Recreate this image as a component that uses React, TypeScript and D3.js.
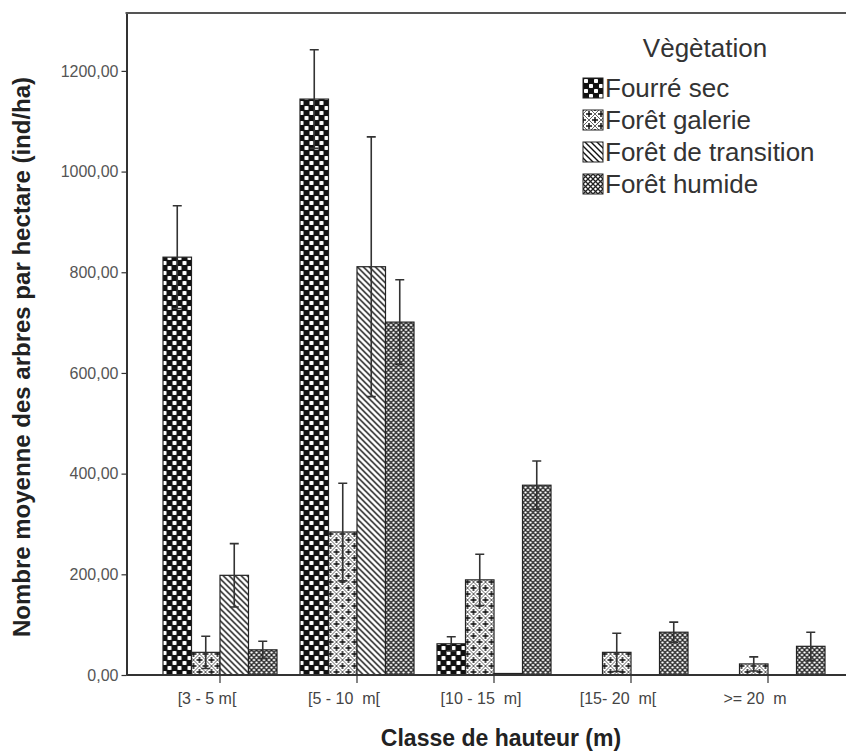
import { useEffect, useRef } from 'react';
import * as d3 from 'd3';

// height classes (x axis)
const categories = ['[3 - 5 m[', '[5 - 10  m[', '[10 - 15  m]', '[15- 20  m[', '>= 20  m'];
const yTicks = [0, 200, 400, 600, 800, 1000, 1200];

// vegetation types (legend)
const seriesNames = ['Fourré sec', 'Forêt galerie', 'Forêt de transition', 'Forêt humide'];

// mean number of trees per hectare, one array per vegetation type
const fourreSec = [830, 1144, 62, 0, 0];
const foretGalerie = [45, 284, 189, 45, 22];
const foretTransition = [198, 811, 3, 0, 0];
const foretHumide = [50, 701, 377, 85, 57];

// error bar half-widths
const fourreSecErr = [102, 98, 14, 0, 0];
const foretGalerieErr = [32, 97, 51, 38, 14];
const foretTransitionErr = [63, 258, 0, 0, 0];
const foretHumideErr = [17, 84, 48, 20, 28];

const App = () => {
  const svgRef = useRef(null);

  useEffect(() => {
    document.body.style.margin = '0';
    const svg = d3.select(svgRef.current);
    svg.selectAll('*').remove();

    const width = 846;
    const height = 754;
    const left = 126.5;
    const top = 13;
    const bottom = 675;
    const font = 'Liberation Sans, Arial, sans-serif';

    svg.attr('width', width).attr('height', height);
    svg.append('rect').attr('width', width).attr('height', height).attr('fill', '#fff');

    const values = [fourreSec, foretGalerie, foretTransition, foretHumide];
    const errors = [fourreSecErr, foretGalerieErr, foretTransitionErr, foretHumideErr];
    const patternIds = ['pFourre', 'pGalerie', 'pTransition', 'pHumide'];

    // ----- patterns -----
    const defs = svg.append('defs');

    const p0 = defs.append('pattern').attr('id', 'pFourre')
      .attr('patternUnits', 'userSpaceOnUse').attr('width', 10).attr('height', 10);
    p0.append('rect').attr('width', 10).attr('height', 10).attr('fill', '#111');
    p0.append('rect').attr('x', 1).attr('y', 1).attr('width', 4).attr('height', 4).attr('rx', 0.8).attr('fill', '#fff');
    p0.append('rect').attr('x', 6).attr('y', 6).attr('width', 4).attr('height', 4).attr('rx', 0.8).attr('fill', '#fff');

    const p1 = defs.append('pattern').attr('id', 'pGalerie')
      .attr('patternUnits', 'userSpaceOnUse').attr('width', 12).attr('height', 12);
    p1.append('rect').attr('width', 12).attr('height', 12).attr('fill', '#fff');
    p1.append('path').attr('d', 'M0,6 L6,0 L12,6 L6,12 Z')
      .attr('fill', 'none').attr('stroke', '#555').attr('stroke-width', 0.9);
    p1.append('path')
      .attr('d', 'M3,6 H9 M6,3 V9 M0,0 H3 M9,0 H12 M0,12 H3 M9,12 H12 M0,0 V3 M0,9 V12 M12,0 V3 M12,9 V12')
      .attr('stroke', '#111').attr('stroke-width', 1.5);

    const p2 = defs.append('pattern').attr('id', 'pTransition')
      .attr('patternUnits', 'userSpaceOnUse').attr('width', 6).attr('height', 6);
    p2.append('rect').attr('width', 6).attr('height', 6).attr('fill', '#fff');
    p2.append('path').attr('d', 'M-1,-1 L7,7 M-2,4 L2,8 M4,-2 L8,2')
      .attr('stroke', '#111').attr('stroke-width', 1.4);

    const p3 = defs.append('pattern').attr('id', 'pHumide')
      .attr('patternUnits', 'userSpaceOnUse').attr('width', 5).attr('height', 5);
    p3.append('rect').attr('width', 5).attr('height', 5).attr('fill', '#fff');
    p3.append('path').attr('d', 'M0,0 L5,5 M5,0 L0,5')
      .attr('stroke', '#222').attr('stroke-width', 1.3);

    // ----- scales -----
    const y = d3.scaleLinear().domain([0, 1315]).range([bottom, top]);
    const x0 = d3.scaleBand().domain(categories).range([151.5, 836.5]);
    const x1 = d3.scaleBand().domain(seriesNames).range([11.5, 125.5]);

    // ----- bars -----
    const groups = svg.append('g').selectAll('g')
      .data(categories)
      .enter()
      .append('g')
      .attr('transform', d => `translate(${x0(d)},0)`);

    groups.selectAll('rect')
      .data((d, i) => seriesNames.map((s, j) => ({ s, j, v: values[j][i] })).filter(b => b.v > 0))
      .enter()
      .append('rect')
      .attr('x', d => x1(d.s))
      .attr('y', d => y(d.v))
      .attr('width', x1.bandwidth())
      .attr('height', d => y(0) - y(d.v))
      .attr('fill', d => `url(#${patternIds[d.j]})`)
      .attr('stroke', '#222')
      .attr('stroke-width', 1.2);

    // ----- error bars -----
    const cap = 4.5;
    groups.each(function(d, i) {
      const g = d3.select(this);
      seriesNames.forEach((s, j) => {
        const v = values[j][i];
        const e = errors[j][i];
        if (v <= 0 || e <= 0) return;
        const cx = x1(s) + x1.bandwidth() / 2;
        const lo = Math.max(0, v - e);
        const hi = v + e;
        g.append('path')
          .attr('d', `M${cx},${y(lo)} V${y(hi)} M${cx - cap},${y(hi)} H${cx + cap} M${cx - cap},${y(lo)} H${cx + cap}`)
          .attr('fill', 'none')
          .attr('stroke', '#333')
          .attr('stroke-width', 1.6);
      });
    });

    // ----- axes -----
    const yAxis = svg.append('g')
      .attr('transform', `translate(${left},0)`)
      .call(d3.axisLeft(y)
        .tickValues(yTicks)
        .tickSize(5)
        .tickSizeOuter(0)
        .tickPadding(3)
        .tickFormat(d => d3.format('.2f')(d).replace('.', ',')));
    yAxis.select('.domain').attr('stroke', '#333').attr('stroke-width', 2);
    yAxis.selectAll('.tick line').attr('stroke', '#333').attr('stroke-width', 1.2);
    yAxis.selectAll('.tick text')
      .attr('fill', '#555')
      .style('font-family', font)
      .style('font-size', '16px');

    const xAxis = svg.append('g')
      .attr('transform', `translate(0,${bottom})`)
      .call(d3.axisBottom(x0).tickSize(8).tickSizeOuter(0).tickPadding(10));
    xAxis.select('.domain').remove();
    xAxis.selectAll('.tick line').attr('stroke', '#333').attr('stroke-width', 1.2);
    xAxis.selectAll('.tick text')
      .attr('fill', '#444')
      .attr('dx', -13)
      .style('white-space', 'pre')
      .style('font-family', font)
      .style('font-size', '16px');

    // frame lines
    svg.append('line')
      .attr('x1', left).attr('x2', width).attr('y1', bottom).attr('y2', bottom)
      .attr('stroke', '#333').attr('stroke-width', 2);
    svg.append('line')
      .attr('x1', left - 1).attr('x2', width).attr('y1', top).attr('y2', top)
      .attr('stroke', '#555').attr('stroke-width', 2);

    // axis titles
    svg.append('text')
      .attr('transform', `translate(30,357) rotate(-90)`)
      .attr('text-anchor', 'middle')
      .attr('fill', '#222')
      .style('font-family', font)
      .style('font-size', '24px')
      .style('font-weight', 'bold')
      .text('Nombre moyenne des arbres par hectare (ind/ha)');

    svg.append('text')
      .attr('x', 501)
      .attr('y', 746)
      .attr('text-anchor', 'middle')
      .attr('fill', '#222')
      .style('font-family', font)
      .style('font-size', '23px')
      .style('font-weight', 'bold')
      .text('Classe de hauteur (m)');

    // ----- legend -----
    const legend = svg.append('g');
    legend.append('text')
      .attr('x', 705)
      .attr('y', 57)
      .attr('text-anchor', 'middle')
      .attr('fill', '#333')
      .style('font-family', font)
      .style('font-size', '26px')
      .text('Vègètation');

    const items = legend.selectAll('g.item')
      .data(seriesNames)
      .enter()
      .append('g')
      .attr('class', 'item')
      .attr('transform', (d, i) => `translate(583,${88 + i * 32})`);
    items.append('rect')
      .attr('x', 0).attr('y', -10)
      .attr('width', 20).attr('height', 20)
      .attr('fill', (d, i) => `url(#${patternIds[i]})`)
      .attr('stroke', '#222')
      .attr('stroke-width', 1);
    items.append('text')
      .attr('x', 22)
      .attr('y', 9)
      .attr('fill', '#333')
      .style('font-family', font)
      .style('font-size', '26px')
      .text(d => d);
  }, []);

  return (
    <div>
      <svg ref={svgRef} style={{ display: 'block' }}></svg>
    </div>
  );
};

export default App;
